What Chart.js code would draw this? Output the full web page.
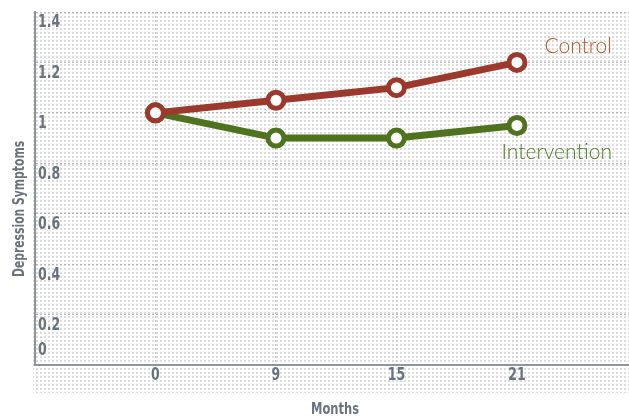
<!DOCTYPE html>
<html><head><meta charset="utf-8">
<script src="https://cdn.jsdelivr.net/npm/chart.js@4"></script>
<style>html,body{margin:0;padding:0;background:#fff;overflow:hidden}#wrap{width:629px;height:419px;position:relative}</style>
</head><body><div id="wrap"><canvas id="c"></canvas></div>
<script>
const months = ['0', '9', '15', '21'];
const controlValues = [1, 1.05, 1.1, 1.2];
const interventionValues = [1, 0.9, 0.9, 0.95];
const yTickLabels = ['0', '0.2', '0.4', '0.6', '0.8', '1', '1.2', '1.4'];
const seriesNames = ['Control', 'Intervention'];
const xTitle = 'Months';
const yTitle = 'Depression Symptoms';
const yMin = 0, yMax = 1.4, yStep = 0.2;

const FONT = "'Liberation Sans Narrow', 'DejaVu Sans Condensed', 'Roboto Condensed', sans-serif";
const TICK_COLOR = '#6a737d';
const CONTROL_COLOR = '#9b3a2c';
const INTERV_COLOR = '#4e721e';

const pat = document.createElement('canvas');
pat.width = 4; pat.height = 4;
const pctx = pat.getContext('2d');
pctx.fillStyle = '#dcdcdc';
pctx.fillRect(0, 0, 2, 2);

function condensedText(ctx, text, x, y, sx) {
  ctx.save();
  ctx.translate(x, y);
  ctx.scale(sx, 1);
  ctx.fillText(text, 0, 0);
  ctx.restore();
}

const decor = {
  id: 'decor',
  beforeDraw(chart) {
    const {ctx, chartArea: a, width, height} = chart;
    ctx.save();
    ctx.fillStyle = '#fff';
    ctx.fillRect(0, 0, width, height);
    ctx.fillStyle = ctx.createPattern(pat, 'repeat');
    ctx.fillRect(a.left - 2, a.top, width - a.left + 2, a.bottom - a.top + 28);
    ctx.restore();
  },
  beforeDatasetsDraw(chart) {
    const {ctx, chartArea: a, scales} = chart;
    const ys = scales.y, xs = scales.x;
    ctx.save();
    ctx.fillStyle = TICK_COLOR;
    ctx.font = "bold 17px " + FONT;
    ctx.textAlign = 'left';
    ctx.textBaseline = 'middle';
    ys.ticks.forEach((t, i) => {
      const py = ys.getPixelForValue(t.value);
      const off = t.value === yMin ? -14 : 11;
      condensedText(ctx, yTickLabels[i], a.left + 3, py + off, 0.82);
    });
    // x tick labels
    ctx.textAlign = 'center';
    xs.ticks.forEach((t, i) => {
      condensedText(ctx, months[i], xs.getPixelForValue(t.value), a.bottom + 11, 0.82);
    });
    // y title
    ctx.save();
    ctx.translate(20, 209);
    ctx.rotate(-Math.PI / 2);
    ctx.textAlign = 'center';
    ctx.font = "bold 15px " + FONT;
    condensedText(ctx, yTitle, 0, 0, 0.8);
    ctx.restore();
    // x title
    ctx.textAlign = 'center';
    ctx.font = "bold 15px " + FONT;
    condensedText(ctx, xTitle, (a.left + a.right) / 2 + 3, 410, 0.85);
    ctx.restore();
  },
  afterDatasetsDraw(chart) {
    const {ctx} = chart;
    ctx.save();
    ctx.font = "300 21px Lato, 'Open Sans', sans-serif";
    ctx.textAlign = 'right';
    ctx.textBaseline = 'middle';
    const m0 = chart.getDatasetMeta(0).data;
    const m1 = chart.getDatasetMeta(1).data;
    const p0 = m0[m0.length - 1], p1 = m1[m1.length - 1];
    ctx.fillStyle = '#b5572a';
    ctx.fillText(seriesNames[0], p0.x + 95, p0.y - 16);
    ctx.fillStyle = '#4f7b22';
    ctx.fillText(seriesNames[1], p1.x + 95, p1.y + 27);
    ctx.restore();
  }
};

new Chart(document.getElementById('c'), {
  type: 'line',
  data: {
    datasets: [
      {
        label: seriesNames[0],
        data: controlValues.map((v, i) => ({x: i, y: v})),
        borderColor: CONTROL_COLOR, backgroundColor: '#fff',
        borderWidth: 7, pointRadius: 8, pointBorderWidth: 5,
        pointBackgroundColor: '#fff', pointBorderColor: CONTROL_COLOR,
        tension: 0
      },
      {
        label: seriesNames[1],
        data: interventionValues.map((v, i) => ({x: i, y: v})),
        borderColor: INTERV_COLOR, backgroundColor: '#fff',
        borderWidth: 7, pointRadius: 8, pointBorderWidth: 5,
        pointBackgroundColor: '#fff', pointBorderColor: INTERV_COLOR,
        tension: 0
      }
    ]
  },
  options: {
    responsive: true, maintainAspectRatio: false, animation: false,
    layout: {autoPadding: false, padding: {top: 12, right: 0, left: 0, bottom: 0}},
    plugins: {legend: {display: false}, tooltip: {enabled: false}},
    scales: {
      x: {
        type: 'linear', min: -1, max: 3.93,
        afterBuildTicks: s => { s.ticks = months.map((m, i) => ({value: i})); },
        afterFit: s => { s.height = 54; },
        grid: {color: '#c2c5c8', lineWidth: 1, drawTicks: false, tickLength: 0},
        border: {display: true, color: '#8e949a', width: 2, dash: [2, 2]},
        ticks: {display: false},
        title: {display: false}
      },
      y: {
        min: yMin, max: yMax,
        afterFit: s => { s.width = 35; },
        ticks: {stepSize: yStep, display: false},
        grid: {color: '#b4b8bc', lineWidth: 1, drawTicks: false, tickLength: 0},
        border: {display: true, color: '#8e949a', width: 2, dash: [2, 2]}
      }
    }
  },
  plugins: [decor]
});
</script>
</body></html>
